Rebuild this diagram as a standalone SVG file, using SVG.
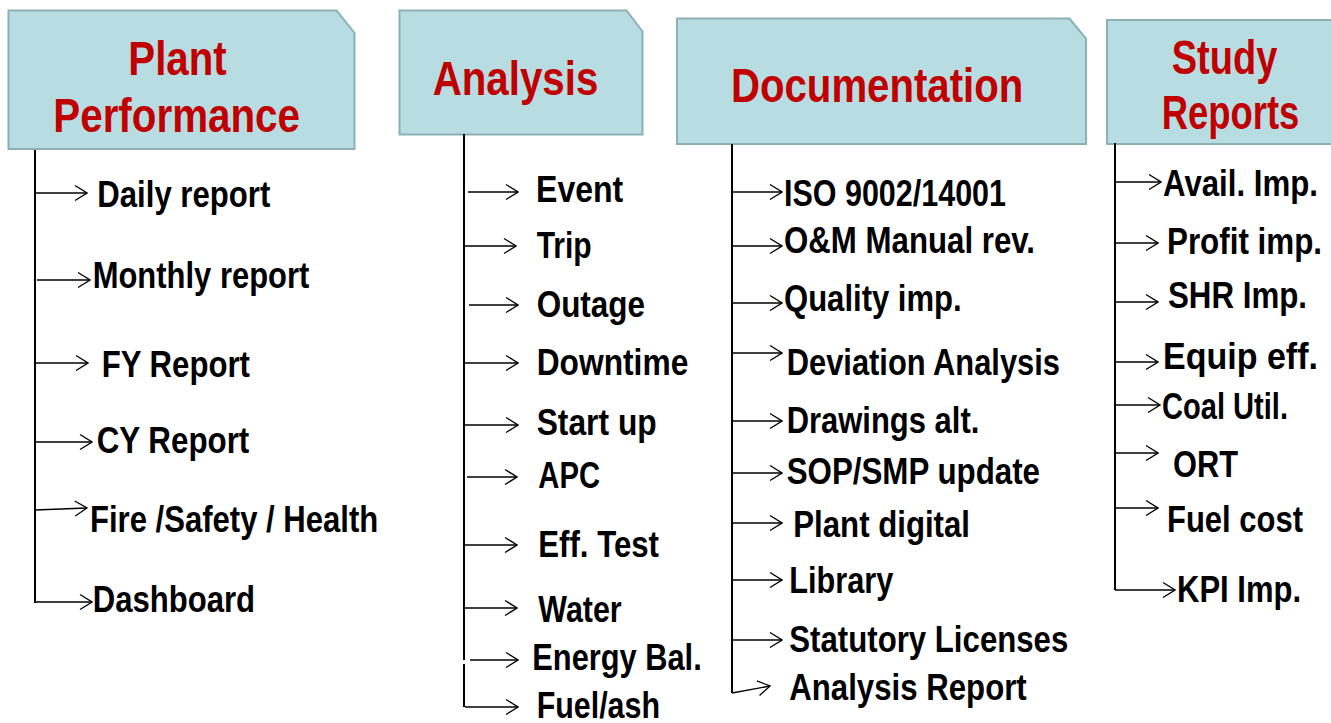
<svg xmlns="http://www.w3.org/2000/svg" width="1331" height="723" viewBox="0 0 1331 723">
<style>
.box{fill:#b7dde3;stroke:#8db0b5;stroke-width:2}
.title{font-family:"Liberation Sans",Arial,sans-serif;font-weight:bold;font-size:48px;fill:#c00000}
.item{font-family:"Liberation Sans",Arial,sans-serif;font-weight:bold;font-size:36px;fill:#000}
.trunk{stroke:#000;stroke-width:2;fill:none}
.arr{stroke:#000;stroke-width:1.3;fill:none;marker-end:url(#ah)}
</style>
<defs>
<marker id="ah" viewBox="0 0 14 18" markerUnits="userSpaceOnUse" markerWidth="14" markerHeight="18" refX="13" refY="9" orient="auto">
<path d="M1,1.5 L13,9 L1,16.5" fill="none" stroke="#000" stroke-width="1.3"/>
</marker>
</defs>
<rect width="1331" height="723" fill="#fff"/>

<g id="t-plant">
<path class="box" d="M8.5,10.5 H336.5 L354.5,33 V149 H8.5 Z"/>
<text class="title" x="128.3" y="75" textLength="98.4" lengthAdjust="spacingAndGlyphs">Plant</text>
<text class="title" x="53.3" y="131.7" textLength="246.7" lengthAdjust="spacingAndGlyphs">Performance</text>
</g>
<g id="t-analysis">
<path class="box" d="M399.5,10.5 H626.5 L642.5,31.5 V134.5 H399.5 Z"/>
<text class="title" x="432.7" y="95" textLength="165.6" lengthAdjust="spacingAndGlyphs">Analysis</text>
</g>
<g id="t-doc">
<path class="box" d="M677,18.5 H1069.5 L1086,38.5 V144 H677 Z"/>
<text class="title" x="731" y="102" textLength="292.3" lengthAdjust="spacingAndGlyphs">Documentation</text>
</g>
<g id="t-study">
<rect class="box" x="1107" y="20" width="240" height="124"/>
<text class="title" x="1171.7" y="74" textLength="105.6" lengthAdjust="spacingAndGlyphs">Study</text>
<text class="title" x="1161.7" y="129" textLength="137.6" lengthAdjust="spacingAndGlyphs">Reports</text>
</g>

<g id="connectors">
<line class="trunk" x1="35" y1="150" x2="35" y2="603"/>
<line class="arr" x1="35" y1="193" x2="87" y2="193"/>
<line class="arr" x1="37" y1="280" x2="90" y2="280"/>
<line class="arr" x1="35" y1="363" x2="88" y2="363"/>
<line class="arr" x1="35" y1="442" x2="92" y2="442"/>
<line class="arr" x1="35" y1="510" x2="87" y2="508"/>
<line class="arr" x1="35" y1="602" x2="92" y2="602"/>

<line class="trunk" x1="464" y1="134" x2="464" y2="660"/>
<line class="trunk" x1="464" y1="664" x2="464" y2="707"/>
<line class="arr" x1="468" y1="192" x2="518" y2="192"/>
<line class="arr" x1="464" y1="246" x2="516" y2="246"/>
<line class="arr" x1="469" y1="305" x2="518" y2="305"/>
<line class="arr" x1="464" y1="363" x2="518" y2="363"/>
<line class="arr" x1="464" y1="425" x2="518" y2="425"/>
<line class="arr" x1="467" y1="477" x2="517" y2="477"/>
<line class="arr" x1="464" y1="545" x2="517" y2="545"/>
<line class="arr" x1="464" y1="608" x2="517" y2="608"/>
<line class="arr" x1="470" y1="660" x2="518" y2="660"/>
<line class="arr" x1="465" y1="707" x2="518" y2="707"/>

<line class="trunk" x1="732" y1="144" x2="732" y2="693"/>
<line class="arr" x1="732" y1="192" x2="782" y2="192"/>
<line class="arr" x1="732" y1="246" x2="782" y2="246"/>
<line class="arr" x1="732" y1="303" x2="782" y2="303"/>
<line class="arr" x1="732" y1="353" x2="782" y2="353"/>
<line class="arr" x1="732" y1="421" x2="782" y2="421"/>
<line class="arr" x1="732" y1="473" x2="782" y2="473"/>
<line class="arr" x1="732" y1="523" x2="782" y2="523"/>
<line class="arr" x1="732" y1="580" x2="782" y2="580"/>
<line class="arr" x1="732" y1="640" x2="782" y2="640"/>
<line class="arr" x1="732" y1="693" x2="770" y2="686"/>

<line class="trunk" x1="1115" y1="143" x2="1115" y2="590"/>
<line class="arr" x1="1115" y1="182" x2="1161" y2="182"/>
<line class="arr" x1="1115" y1="243" x2="1158" y2="243"/>
<line class="arr" x1="1115" y1="302" x2="1158" y2="302"/>
<line class="arr" x1="1115" y1="362" x2="1158" y2="362"/>
<line class="arr" x1="1115" y1="405" x2="1160" y2="405"/>
<line class="arr" x1="1115" y1="453" x2="1158" y2="453"/>
<line class="arr" x1="1115" y1="508" x2="1158" y2="508"/>
<line class="arr" x1="1115" y1="590" x2="1175" y2="590"/>
</g>

<g id="n-daily"><text class="item" x="97.3" y="206.7" textLength="173" lengthAdjust="spacingAndGlyphs">Daily report</text></g>
<g id="n-monthly"><text class="item" x="92.7" y="288.3" textLength="216.6" lengthAdjust="spacingAndGlyphs">Monthly report</text></g>
<g id="n-fy"><text class="item" x="101.7" y="376.7" textLength="148.3" lengthAdjust="spacingAndGlyphs">FY Report</text></g>
<g id="n-cy"><text class="item" x="96.7" y="453.3" textLength="152.6" lengthAdjust="spacingAndGlyphs">CY Report</text></g>
<g id="n-fire"><text class="item" x="90" y="531.7" textLength="288.3" lengthAdjust="spacingAndGlyphs">Fire /Safety / Health</text></g>
<g id="n-dash"><text class="item" x="92.7" y="611.7" textLength="162.3" lengthAdjust="spacingAndGlyphs">Dashboard</text></g>

<g id="n-event"><text class="item" x="536" y="201.7" textLength="87.3" lengthAdjust="spacingAndGlyphs">Event</text></g>
<g id="n-trip"><text class="item" x="536.7" y="258.3" textLength="55" lengthAdjust="spacingAndGlyphs">Trip</text></g>
<g id="n-outage"><text class="item" x="536.7" y="316.7" textLength="108.3" lengthAdjust="spacingAndGlyphs">Outage</text></g>
<g id="n-downtime"><text class="item" x="536.7" y="375" textLength="151.6" lengthAdjust="spacingAndGlyphs">Downtime</text></g>
<g id="n-startup"><text class="item" x="536.7" y="435" textLength="120" lengthAdjust="spacingAndGlyphs">Start up</text></g>
<g id="n-apc"><text class="item" x="538.3" y="488.3" textLength="61.7" lengthAdjust="spacingAndGlyphs">APC</text></g>
<g id="n-eff"><text class="item" x="538.3" y="557.3" textLength="120.7" lengthAdjust="spacingAndGlyphs">Eff. Test</text></g>
<g id="n-water"><text class="item" x="538.3" y="621.7" textLength="83.4" lengthAdjust="spacingAndGlyphs">Water</text></g>
<g id="n-energy"><text class="item" x="532.3" y="670" textLength="169.4" lengthAdjust="spacingAndGlyphs">Energy Bal.</text></g>
<g id="n-fuelash"><text class="item" x="536.7" y="718" textLength="123.3" lengthAdjust="spacingAndGlyphs">Fuel/ash</text></g>

<g id="n-iso"><text class="item" x="784" y="206" textLength="222" lengthAdjust="spacingAndGlyphs">ISO 9002/14001</text></g>
<g id="n-om"><text class="item" x="784" y="253.3" textLength="251" lengthAdjust="spacingAndGlyphs">O&amp;M Manual rev.</text></g>
<g id="n-quality"><text class="item" x="784" y="310.7" textLength="177.7" lengthAdjust="spacingAndGlyphs">Quality imp.</text></g>
<g id="n-deviation"><text class="item" x="786.7" y="375" textLength="273.3" lengthAdjust="spacingAndGlyphs">Deviation Analysis</text></g>
<g id="n-drawings"><text class="item" x="786.7" y="433" textLength="192.6" lengthAdjust="spacingAndGlyphs">Drawings alt.</text></g>
<g id="n-sop"><text class="item" x="786.7" y="484" textLength="253.3" lengthAdjust="spacingAndGlyphs">SOP/SMP update</text></g>
<g id="n-plantdig"><text class="item" x="793.3" y="537" textLength="176.7" lengthAdjust="spacingAndGlyphs">Plant digital</text></g>
<g id="n-library"><text class="item" x="789.3" y="593" textLength="104" lengthAdjust="spacingAndGlyphs">Library</text></g>
<g id="n-statutory"><text class="item" x="789.3" y="652" textLength="279" lengthAdjust="spacingAndGlyphs">Statutory Licenses</text></g>
<g id="n-anreport"><text class="item" x="789.3" y="700" textLength="237.4" lengthAdjust="spacingAndGlyphs">Analysis Report</text></g>

<g id="n-avail"><text class="item" x="1163" y="196" textLength="155" lengthAdjust="spacingAndGlyphs">Avail. Imp.</text></g>
<g id="n-profit"><text class="item" x="1167" y="254" textLength="155" lengthAdjust="spacingAndGlyphs">Profit imp.</text></g>
<g id="n-shr"><text class="item" x="1168" y="308" textLength="139" lengthAdjust="spacingAndGlyphs">SHR Imp.</text></g>
<g id="n-equip"><text class="item" x="1163" y="369" textLength="155" lengthAdjust="spacingAndGlyphs">Equip eff.</text></g>
<g id="n-coal"><text class="item" x="1162" y="419" textLength="126" lengthAdjust="spacingAndGlyphs">Coal Util.</text></g>
<g id="n-ort"><text class="item" x="1173" y="477" textLength="65" lengthAdjust="spacingAndGlyphs">ORT</text></g>
<g id="n-fuelcost"><text class="item" x="1167" y="532" textLength="136" lengthAdjust="spacingAndGlyphs">Fuel cost</text></g>
<g id="n-kpi"><text class="item" x="1177" y="602" textLength="124" lengthAdjust="spacingAndGlyphs">KPI Imp.</text></g>
</svg>
